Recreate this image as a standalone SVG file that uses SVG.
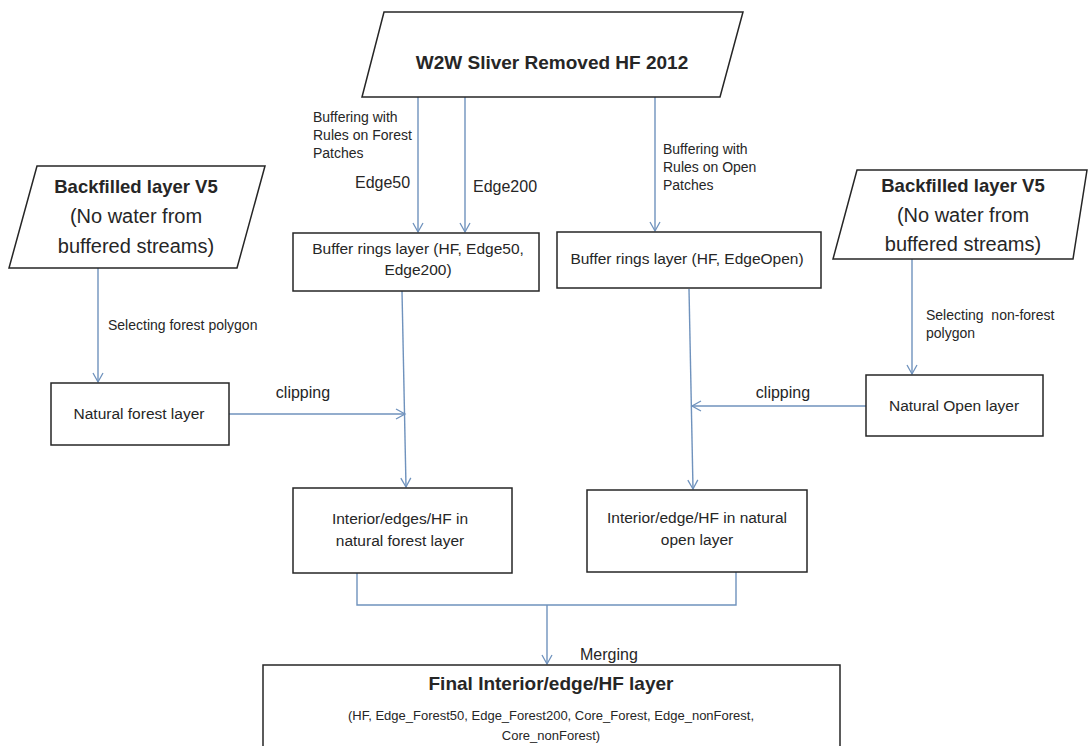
<svg xmlns="http://www.w3.org/2000/svg" width="1088" height="746" viewBox="0 0 1088 746">
<defs>
<marker id="arr" markerUnits="userSpaceOnUse" markerWidth="14" markerHeight="14" refX="10" refY="6" orient="auto">
<path d="M1,1 L10,6 L1,11" fill="none" stroke="#6f92bd" stroke-width="1.3"/>
</marker>
<style>
.box{fill:#fff;stroke:#262626;stroke-width:1.5}
.c{fill:none;stroke:#6f92bd;stroke-width:1.4}
.ca{fill:none;stroke:#6f92bd;stroke-width:1.4;marker-end:url(#arr)}
text{font-family:"Liberation Sans",Arial,sans-serif;fill:#262626}
.mid{text-anchor:middle}
.b{font-weight:bold}
.s{font-size:14px}
.m{font-size:15.5px}
.l{font-size:20px}
</style>
</defs>
<rect width="1088" height="746" fill="#fff"/>

<g id="connectors">
<line class="ca" x1="418" y1="97" x2="418" y2="232"/>
<line class="ca" x1="465" y1="97" x2="465" y2="232"/>
<line class="ca" x1="655" y1="97" x2="655" y2="231"/>
<line class="ca" x1="98" y1="268" x2="98" y2="382"/>
<line class="ca" x1="912" y1="259" x2="912" y2="374"/>
<line class="ca" x1="402" y1="291" x2="406" y2="487"/>
<line class="ca" x1="689" y1="289" x2="693" y2="489"/>
<line class="ca" x1="229" y1="414" x2="405" y2="414"/>
<line class="ca" x1="866" y1="406" x2="692" y2="406"/>
<polyline class="c" points="357,573 357,605 736,605 736,572"/>
<line class="ca" x1="547" y1="605" x2="547" y2="664"/>
<text class="s" x="313" y="122">Buffering with</text>
<text class="s" x="313" y="140">Rules on Forest</text>
<text class="s" x="313" y="158">Patches</text>
<text x="355" y="188" style="font-size:16px">Edge50</text>
<text x="473" y="192" style="font-size:16px">Edge200</text>
<text class="s" x="663" y="154">Buffering with</text>
<text class="s" x="663" y="172">Rules on Open</text>
<text class="s" x="663" y="190">Patches</text>
<text class="s" x="108" y="330">Selecting forest polygon</text>
<text class="s" x="926" y="320" xml:space="preserve">Selecting  non-forest</text>
<text class="s" x="926" y="338">polygon</text>
<text class="mid" x="303" y="398" style="font-size:16px">clipping</text>
<text class="mid" x="783" y="398" style="font-size:16px">clipping</text>
<text x="580" y="660" style="font-size:16px">Merging</text>
</g>

<g id="w2w">
<polygon class="box" points="384,12 743,12 720,97 362,97"/>
<text class="mid b" x="552" y="69" style="font-size:19px">W2W Sliver Removed HF 2012</text>
</g>

<g id="backfilled-left">
<polygon class="box" points="37,166 265,166 237,268 9,268"/>
<text class="mid b" x="136" y="193" style="font-size:18.5px">Backfilled layer V5</text>
<text class="mid l" x="136" y="223">(No water from</text>
<text class="mid l" x="136" y="253">buffered streams)</text>
</g>

<g id="backfilled-right">
<polygon class="box" points="857,170 1087,170 1073,259 833,259"/>
<text class="mid b" x="963" y="192" style="font-size:18.5px">Backfilled layer V5</text>
<text class="mid l" x="963" y="222">(No water from</text>
<text class="mid l" x="963" y="251">buffered streams)</text>
</g>

<g id="buffer-forest">
<rect class="box" x="293" y="233" width="246" height="58"/>
<text class="mid m" x="418" y="254">Buffer rings layer (HF, Edge50,</text>
<text class="mid m" x="418" y="275">Edge200)</text>
</g>

<g id="buffer-open">
<rect class="box" x="557" y="232" width="264" height="56"/>
<text class="mid m" x="687" y="264">Buffer rings layer (HF, EdgeOpen)</text>
</g>

<g id="natural-forest">
<rect class="box" x="51" y="383" width="178" height="62"/>
<text class="mid m" x="139" y="419">Natural forest layer</text>
</g>

<g id="natural-open">
<rect class="box" x="866" y="375" width="177" height="61"/>
<text class="mid m" x="954" y="411">Natural Open layer</text>
</g>

<g id="interior-forest">
<rect class="box" x="293" y="488" width="219" height="85"/>
<text class="mid m" x="400" y="524">Interior/edges/HF in</text>
<text class="mid m" x="400" y="546">natural forest layer</text>
</g>

<g id="interior-open">
<rect class="box" x="587" y="490" width="220" height="82"/>
<text class="mid m" x="697" y="523">Interior/edge/HF in natural</text>
<text class="mid m" x="697" y="545">open layer</text>
</g>

<g id="final">
<rect class="box" x="263" y="665" width="577" height="100"/>
<text class="mid b" x="551" y="690" style="font-size:19px">Final Interior/edge/HF layer</text>
<text class="mid" x="551" y="720" style="font-size:13px">(HF, Edge_Forest50, Edge_Forest200, Core_Forest, Edge_nonForest,</text>
<text class="mid" x="551" y="740" style="font-size:13px">Core_nonForest)</text>
</g>
</svg>
